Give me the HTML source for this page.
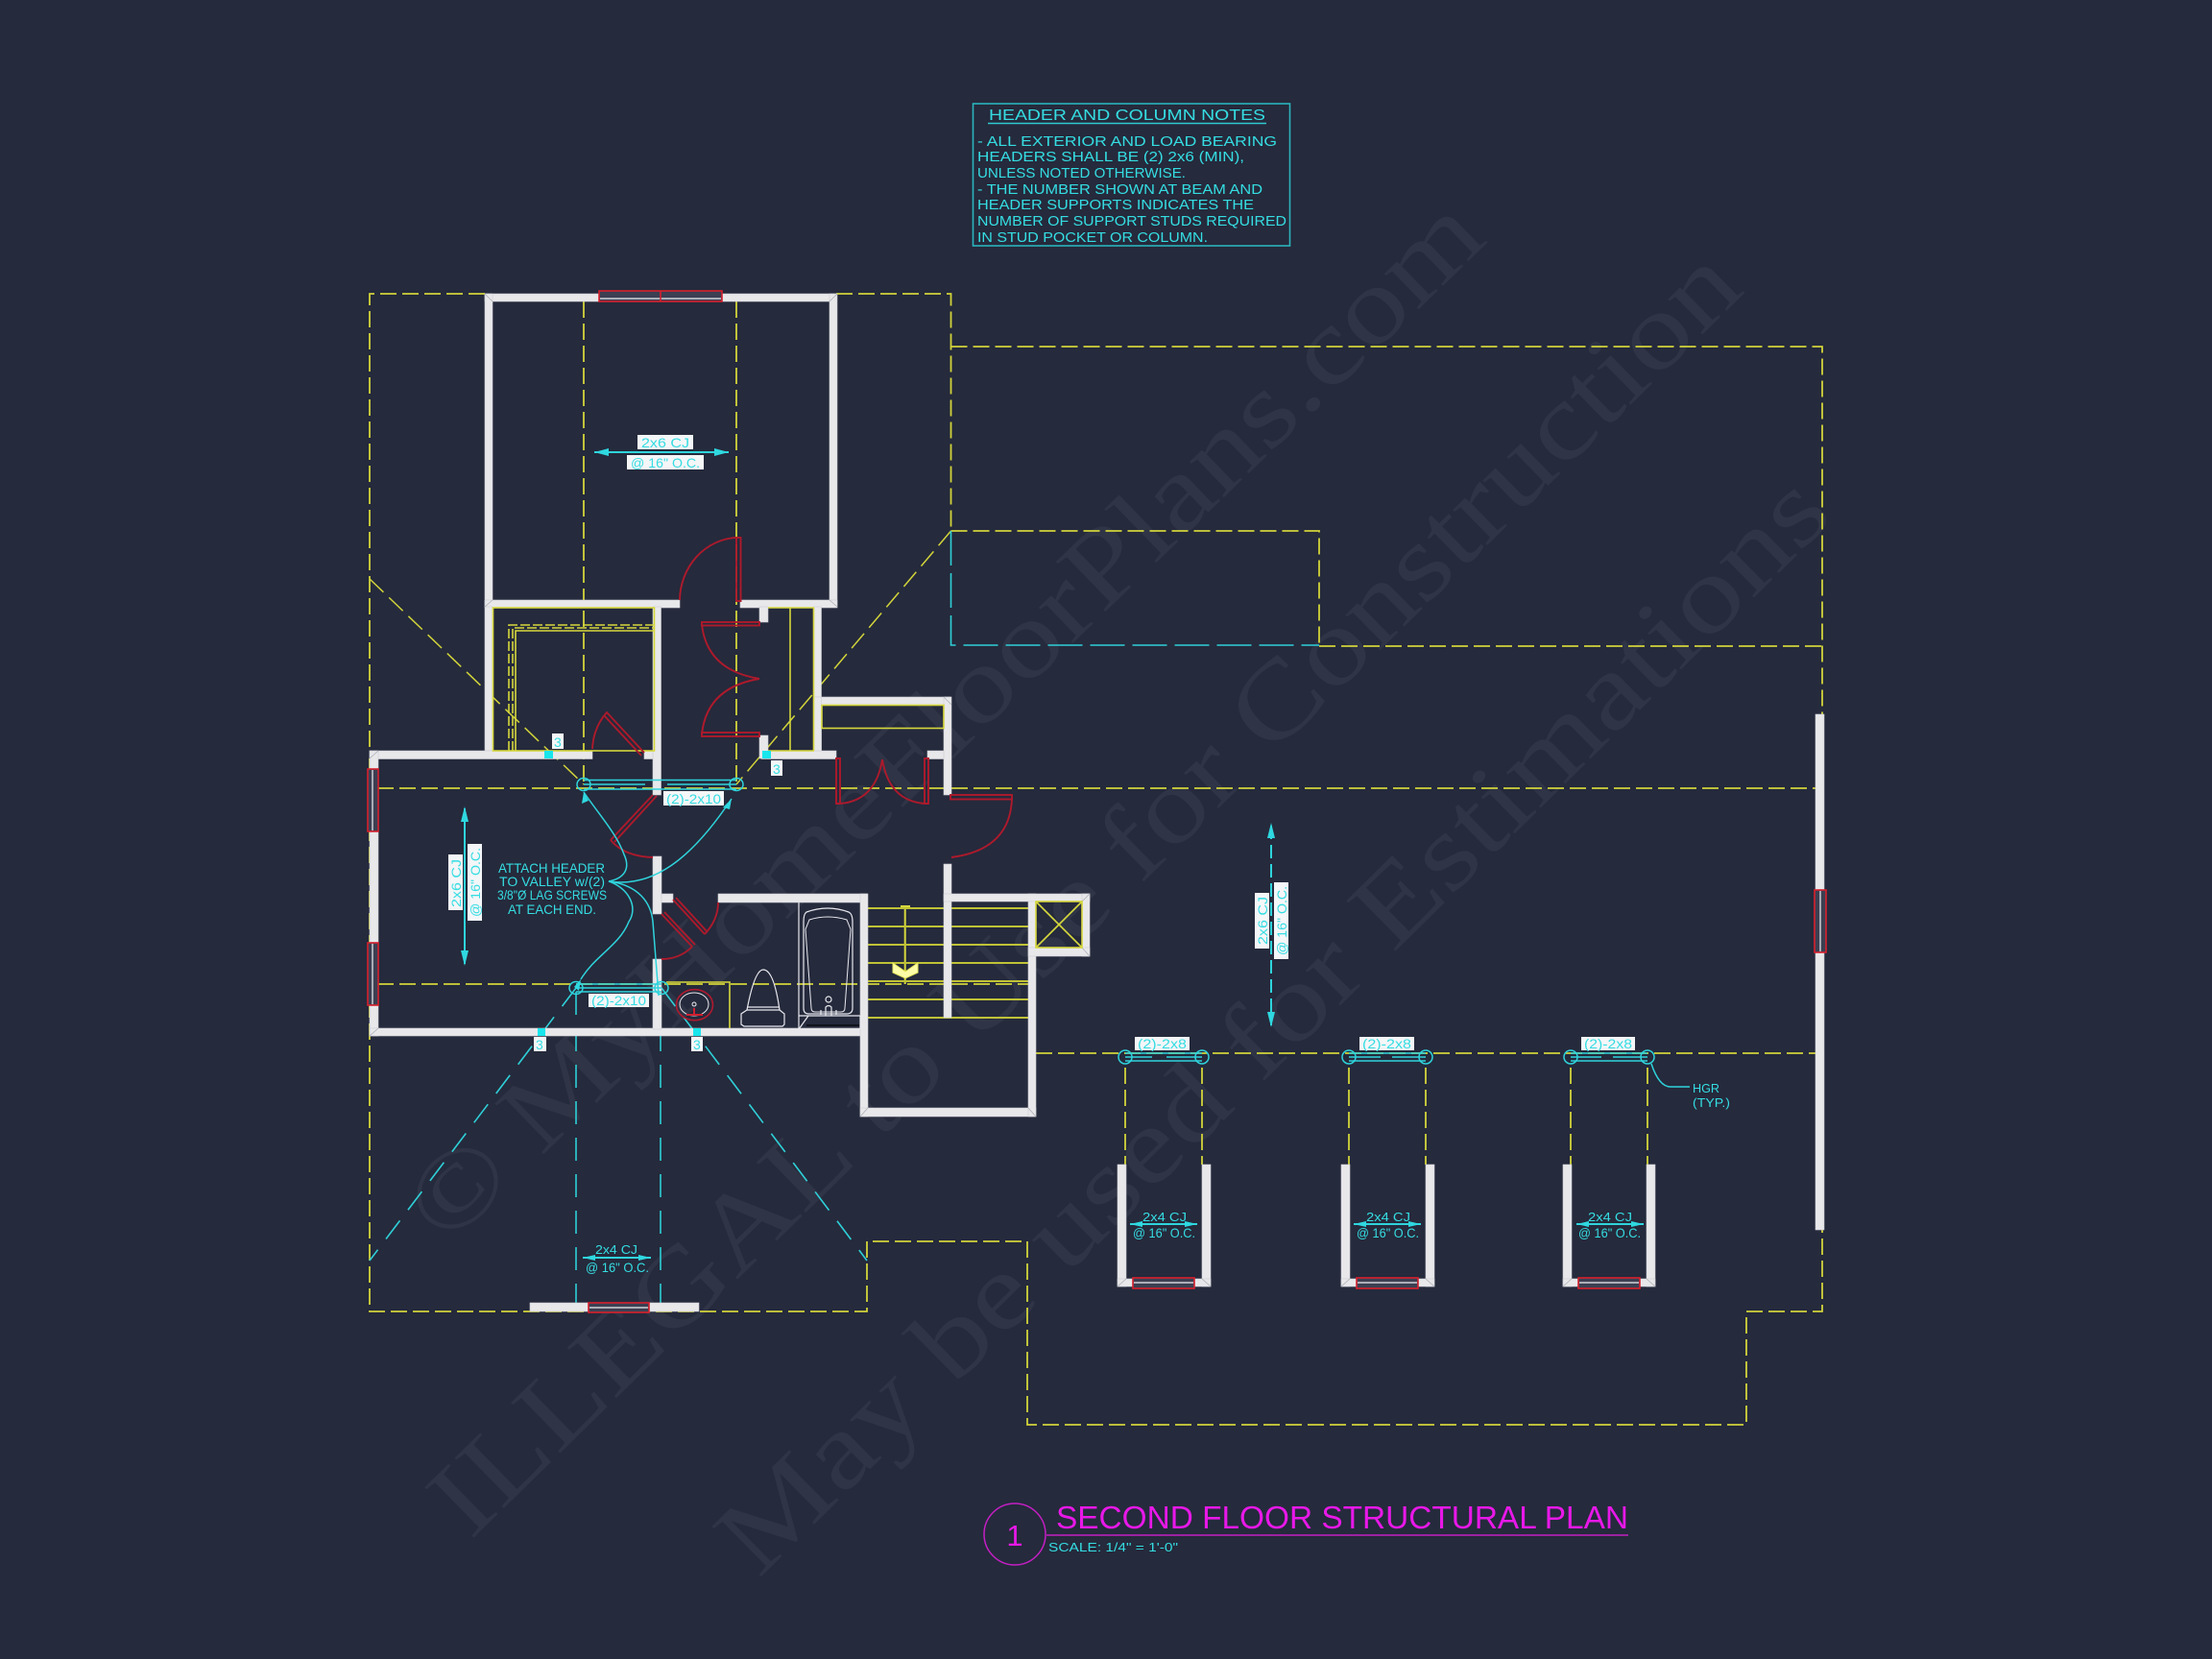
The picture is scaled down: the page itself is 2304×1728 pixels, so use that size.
<!DOCTYPE html>
<html><head><meta charset="utf-8"><style>
html,body{margin:0;padding:0;background:#252a3c}
svg{display:block}
.w{fill:#e8e8ea;stroke:#cfcfd4;stroke-width:.6}
.y,.yd,.c,.cd,.r,.t{fill:none}
.y{stroke:#d6d83c;stroke-width:1.6}
.yd{stroke:#d2d43a;stroke-width:1.8;stroke-dasharray:17 6}
.st{stroke:#bfc236;stroke-width:2;fill:none}
.c{stroke:#2fd4dc;stroke-width:1.5}
.cd{stroke:#2fd0d8;stroke-width:1.6;stroke-dasharray:24 14}
.r{stroke:#ad1a2c;stroke-width:1.9}
.t{stroke:#e8e8ee;stroke-width:1.2}
.win{fill:#3c3f52;stroke:#d8202e;stroke-width:1.6}
.lb{fill:#f4f6f8}
.q{fill:#19e6ec}
text{font-family:"Liberation Sans",sans-serif}
.tx{fill:#35dde2}
.wm{font-family:"Liberation Serif",serif;fill:#2f3446;font-size:112px}
</style></head><body>
<svg xmlns="http://www.w3.org/2000/svg" width="2304" height="1728" viewBox="0 0 2304 1728">
<rect width="2304" height="1728" fill="#252a3c"/>
<!-- watermark -->
<text class="wm" transform="translate(465 1300) rotate(-44)" textLength="1510" lengthAdjust="spacingAndGlyphs">© MyHomeFloorPlans.com</text>
<text class="wm" transform="translate(490 1605) rotate(-44.4)" textLength="1860" lengthAdjust="spacingAndGlyphs">ILLEGAL to Use for Construction</text>
<text class="wm" transform="translate(790 1645) rotate(-44.6)" textLength="1575" lengthAdjust="spacingAndGlyphs">May be used for Estimations</text>

<!-- notes -->
<rect x="1013.5" y="108" width="330" height="148" fill="none" stroke="#2bb4bc" stroke-width="1.6"/>
<g class="tx">
<text x="1030" y="125" font-size="16" textLength="288" lengthAdjust="spacingAndGlyphs">HEADER AND COLUMN NOTES</text>
<text x="1018" y="152" font-size="14.5" textLength="312" lengthAdjust="spacingAndGlyphs">- ALL EXTERIOR AND LOAD BEARING</text>
<text x="1018" y="168" font-size="14.5" textLength="278" lengthAdjust="spacingAndGlyphs">HEADERS SHALL BE (2) 2x6 (MIN),</text>
<text x="1018" y="185" font-size="14.5" textLength="217" lengthAdjust="spacingAndGlyphs">UNLESS NOTED OTHERWISE.</text>
<text x="1018" y="202" font-size="14.5" textLength="297" lengthAdjust="spacingAndGlyphs">- THE NUMBER SHOWN AT BEAM AND</text>
<text x="1018" y="218" font-size="14.5" textLength="288" lengthAdjust="spacingAndGlyphs">HEADER SUPPORTS INDICATES THE</text>
<text x="1018" y="235" font-size="14.5" textLength="322" lengthAdjust="spacingAndGlyphs">NUMBER OF SUPPORT STUDS REQUIRED</text>
<text x="1018" y="252" font-size="14.5" textLength="240" lengthAdjust="spacingAndGlyphs">IN STUD POCKET OR COLUMN.</text>
</g>
<line x1="1029" y1="128.5" x2="1319" y2="128.5" stroke="#2fc8d0" stroke-width="1.6"/>

<!-- roof dashes -->
<g class="yd">
<path d="M505 306H385V782"/>
<path d="M871 306H990.500V553"/>
<path d="M990.500 361H1898V744"/>
<path d="M990.500 553H1374V673"/>
<path d="M1374 673H1898"/>
<path d="M385 790V1366H903V1293H1070V1484H1819V1366H1898V1281"/>
<path d="M385 603L608 817" stroke-width="1.5" stroke-dasharray="20 8"/>
<path d="M990.500 553L767 817" stroke-width="1.5" stroke-dasharray="20 8"/>
<path d="M608 314V817"/>
<path d="M767 314V817"/>
<path d="M393 821H1892"/>
<path d="M393 1025H1072"/>
<path d="M1079 1097H1892"/>
<path d="M1172 1112V1213M1252 1112V1213M1405 1112V1213M1485 1112V1213M1636 1112V1213M1716 1112V1213"/>
</g>
<g class="cd">
<path d="M990.500 553V672H1374" stroke-dasharray="36 8"/>
<path d="M600 1033V1357M688 1033V1357"/>
<path d="M600 1029L385 1313"/>
<path d="M689 1029L903 1313"/>
</g>

<!-- stair yellow -->
<g class="y">
<path d="M942.700 943V1025" stroke-width="2"/>
<path d="M938 944H948" stroke-width="2"/>
</g>
<g class="st">
<path d="M904 946H1071M904 965H1071M904 984H1071M904 1003H1071M904 1022H1071M904 1041H1071M904 1060H1071"/>
</g>
<polygon points="930,1003 943,1012 956,1003 956,1013 943,1019 930,1013" fill="#fdfda8" stroke="#e8e860" stroke-width="1"/>

<!-- walls -->
<g class="w">
<rect x="505" y="306" width="119" height="8"/>
<rect x="752" y="306" width="119" height="8"/>
<rect x="505" y="306" width="8" height="326"/>
<rect x="864" y="306" width="8" height="326"/>
<rect x="505" y="625" width="203" height="8"/>
<rect x="771" y="625" width="101" height="8"/>
<rect x="505" y="632" width="8" height="150"/>
<rect x="385" y="782" width="232" height="8.500"/>
<rect x="385" y="782" width="9" height="19"/>
<rect x="680" y="632" width="8.500" height="196"/>
<rect x="671" y="782" width="9" height="8.500"/>
<rect x="848" y="632" width="7.500" height="150"/>
<rect x="793" y="782" width="78" height="8.500"/>
<rect x="791" y="632" width="9" height="16"/>
<rect x="791" y="766" width="9" height="24"/>
<rect x="848" y="726" width="142" height="8"/>
<rect x="848" y="726" width="7.500" height="56"/>
<rect x="983" y="726" width="8" height="102"/>
<rect x="966" y="782" width="17" height="8.500"/>
<rect x="385" y="866" width="9" height="116"/>
<rect x="385" y="1047" width="9" height="32"/>
<rect x="385" y="1071" width="518" height="8"/>
<rect x="680" y="892" width="9" height="60"/>
<rect x="680" y="999" width="9" height="73"/>
<rect x="689" y="931" width="12" height="9"/>
<rect x="748" y="931" width="155" height="9"/>
<rect x="896" y="931" width="8" height="232"/>
<rect x="896" y="1154" width="183" height="9"/>
<rect x="1071" y="931" width="8" height="232"/>
<rect x="983" y="900" width="8" height="160"/>
<rect x="983" y="931" width="152" height="8"/>
<rect x="1127" y="931" width="8" height="65"/>
<rect x="1071" y="987" width="64" height="9"/>
<rect x="552" y="1357" width="176" height="9"/>
<rect x="1164" y="1213" width="9" height="127"/>
<rect x="1252" y="1213" width="9" height="127"/>
<rect x="1164" y="1332" width="97" height="8"/>
<rect x="1397" y="1213" width="9" height="127"/>
<rect x="1485" y="1213" width="9" height="127"/>
<rect x="1397" y="1332" width="97" height="8"/>
<rect x="1628" y="1213" width="9" height="127"/>
<rect x="1715" y="1213" width="9" height="127"/>
<rect x="1628" y="1332" width="96" height="8"/>
<rect x="1891" y="744" width="9" height="537"/>
</g>
<!-- tiny miters -->
<g stroke="#a9abb4" stroke-width=".7" fill="none">
<path d="M505 306L513 314M872 306L864 314M385 790L394 782M385 1079L394 1071M896 1163L904 1154M1079 1163L1071 1154M1135 931L1127 939M1135 996L1127 987M505 632L513 625M872 632L864 625M983 726L991 734"/>
<path d="M1164 1340L1173 1332M1261 1340L1252 1332M1397 1340L1406 1332M1494 1340L1485 1332M1628 1340L1637 1332M1724 1340L1715 1332"/>
</g>

<!-- closet yellow over walls -->
<g class="y">
<rect x="513.500" y="633" width="168" height="149"/>
<path d="M537 782V657H681"/>
<path d="M530 782V651H681" stroke-dasharray="10 3"/>
<path d="M534 782V654H681" stroke-dasharray="10 3"/>
<path d="M823 633V782M847.500 633V782M800 633H848M800 782H848"/>
<rect x="856" y="734.500" width="127" height="24"/>
<rect x="1079" y="939" width="48" height="48"/>
<path d="M1079 939L1127 987M1127 939L1079 987"/>
<path d="M694 1023H760V1071"/>
</g>

<!-- windows -->
<g class="win">
<rect x="624" y="303" width="128" height="11"/>
<rect x="383" y="801" width="11" height="65"/>
<rect x="383" y="982" width="11" height="65"/>
<rect x="613" y="1357" width="63" height="10"/>
<rect x="1180" y="1331" width="64" height="11"/>
<rect x="1413" y="1331" width="64" height="11"/>
<rect x="1644" y="1331" width="64" height="11"/>
<rect x="1890" y="927" width="12" height="65"/>
</g>
<g stroke="#f0f0f4" stroke-width="1.2" fill="none">
<path d="M625 311H751M388 802V865M388 983V1046M614 1362H675M1181 1336H1243M1414 1336H1476M1645 1336H1707M1896 928V991"/>
</g>
<path d="M688 303V314" stroke="#d8202e" stroke-width="1.6"/>

<!-- doors -->
<g class="r">
<rect x="767" y="560" width="4.500" height="66"/>
<path d="M767 560A62 66 0 0 0 708 625"/>
<rect x="731" y="648" width="60" height="3.500"/>
<path d="M731 650Q736 698 791 707"/>
<path d="M791 707Q736 716 731 765"/>
<rect x="731" y="763" width="60" height="4"/>
<path d="M617 780Q618 758 632 742L671 784M629 745L668 787"/>
<path d="M871 790V837L875 837V790Z"/>
<path d="M875 837Q912 834 919 791"/>
<path d="M919 791Q926 834 963 837"/>
<path d="M963 790V837H967V790Z"/>
<path d="M680 828L636 875M684 829L640 877"/>
<path d="M636 875Q650 892 680 893"/>
<path d="M701 937L734 973M704 935L737 971"/>
<path d="M734 973Q748 958 748 940"/>
<path d="M689 952L721 986M692 950L724 984"/>
<path d="M721 986Q708 999 689 999"/>
<rect x="990" y="828" width="64" height="4.500"/>
<path d="M1054 832Q1052 885 991 893"/>
</g>

<!-- bath fixtures -->
<g class="t">
<path d="M832 940V1071"/>
<path d="M840 950Q862 942 884 950Q888 952 888 960V1050Q888 1056 882 1056H842Q837 1056 837 1050V960Q837 952 840 950Z"/>
<path d="M843 958Q862 952 882 958L886 968L880 1050Q880 1054 876 1054H849Q845 1054 845 1050L839 968Z" stroke-width="1"/>
<circle cx="863" cy="1041" r="3"/>
<path d="M860 1058V1049Q863 1046 866 1049V1058M855 1057V1052M871 1057V1052"/>
<path d="M832 1058H896M832 1072L842 1058M896 1058V1072"/>
<path d="M840 1068H895" stroke="#10121a" stroke-width="2"/>
<path d="M778 1052Q786 1010 795 1010Q806 1010 812 1052"/>
<path d="M778 1049H812"/>
<path d="M778 1052L772 1056V1067L775 1069H815L817 1067V1056L812 1052Z"/>
<ellipse cx="723" cy="1046" rx="15" ry="12" stroke-width="1"/>
</g>
<ellipse cx="723.500" cy="1046.700" rx="19" ry="16" fill="none" stroke="#b01a2e" stroke-width="1.6"/>
<circle cx="723" cy="1046" r="2" fill="none" stroke="#eee"/>
<path d="M723 1050V1056M715 1057H732" stroke="#d02030" stroke-width="2"/>

<!-- headers -->
<g class="c">
<path d="M608 812.500H767M608 817H672M695 817H767M608 822H767"/>
<ellipse cx="608" cy="817" rx="7" ry="6.500"/><ellipse cx="767" cy="817" rx="7" ry="6.500"/>
<path d="M600 1025H689M600 1029H689M600 1033H689"/>
<ellipse cx="600" cy="1029" rx="7" ry="6.500"/><ellipse cx="689" cy="1029" rx="7" ry="6.500"/>
<path d="M1172 1097H1252M1172 1101H1200M1215 1101H1252M1172 1105H1252"/>
<ellipse cx="1172" cy="1101" rx="7" ry="7"/><ellipse cx="1252" cy="1101" rx="7" ry="7"/>
<path d="M1405 1097H1485M1405 1101H1438M1450 1101H1485M1405 1105H1485"/>
<ellipse cx="1405" cy="1101" rx="7" ry="7"/><ellipse cx="1485" cy="1101" rx="7" ry="7"/>
<path d="M1636 1097H1716M1636 1101H1668M1680 1101H1716M1636 1105H1716"/>
<ellipse cx="1636" cy="1101" rx="7" ry="7"/><ellipse cx="1716" cy="1101" rx="7" ry="7"/>
<!-- leader curves -->
<path d="M634 918C650 915 657 905 650 890C642 868 625 850 608 825"/>
<path d="M634 918C680 925 720 895 762 832"/>
<path d="M634 918C655 925 665 945 655 960C645 985 620 995 605 1020"/>
<path d="M634 918C665 922 678 940 680 960L686 1037"/>
<path d="M1720 1108Q1728 1132 1740 1132H1760"/>
<path d="M619 471H759M1177 1275H1247M1410 1275H1480M1642 1275H1712M607 1310H678" stroke-width="2"/>
<path d="M484 842V1004" stroke-width="2"/>
<path d="M1324 860V1068" stroke-width="2" stroke-dasharray="14 6"/>
</g>
<g fill="#2fd8e0">
<path d="M619 471L634 467V475ZM759 471L744 467V475Z"/>
<path d="M484 840L480 856H488ZM484 1006L480 990H488Z"/>
<path d="M1324 857L1320 873H1328ZM1324 1070L1320 1054H1328Z"/>
<path d="M1177 1275L1190 1272V1278ZM1247 1275L1234 1272V1278ZM1410 1275L1423 1272V1278ZM1480 1275L1467 1272V1278ZM1642 1275L1655 1272V1278ZM1712 1275L1699 1272V1278Z"/>
<path d="M607 1310L620 1307V1313ZM678 1310L665 1307V1313Z"/>
<path d="M608 825L606 837L613 834ZM762 832L753 841L760 843ZM605 1020L603 1032L598 1028Z"/>
</g>
<!-- studs -->
<g class="q">
<rect x="567" y="782" width="9" height="8"/><rect x="794" y="782" width="9" height="8"/>
<rect x="560" y="1071" width="8" height="8"/><rect x="722" y="1071" width="8" height="8"/>
</g>

<!-- white labels -->
<g class="lb">
<rect x="664" y="453" width="58" height="15"/><rect x="653" y="474" width="80" height="15"/>
<rect x="575" y="764" width="12" height="16"/><rect x="803" y="792" width="12" height="16"/>
<rect x="691" y="824" width="63" height="15"/><rect x="613" y="1035" width="63" height="14"/>
<rect x="556" y="1080" width="13" height="15"/><rect x="720" y="1080" width="12" height="15"/>
<rect x="467" y="890" width="15" height="58"/><rect x="487" y="879" width="15" height="80"/>
<rect x="1307" y="930" width="15" height="58"/><rect x="1327" y="919" width="15" height="80"/>
<rect x="1182" y="1080" width="57" height="14"/><rect x="1416" y="1080" width="57" height="14"/><rect x="1647" y="1080" width="56" height="14"/>
</g>
<g class="tx" font-size="14">
<text x="668" y="466" textLength="50" lengthAdjust="spacingAndGlyphs">2x6 CJ</text>
<text x="657" y="487" textLength="72" lengthAdjust="spacingAndGlyphs">@ 16" O.C.</text>
<text x="577" y="778">3</text><text x="805" y="806">3</text>
<text x="694" y="837" textLength="57" lengthAdjust="spacingAndGlyphs">(2)-2x10</text>
<text x="616" y="1047" textLength="57" lengthAdjust="spacingAndGlyphs">(2)-2x10</text>
<text x="558" y="1093">3</text><text x="722" y="1093">3</text>
<text transform="translate(480 945) rotate(-90)" textLength="50" lengthAdjust="spacingAndGlyphs">2x6 CJ</text>
<text transform="translate(500 955) rotate(-90)" textLength="72" lengthAdjust="spacingAndGlyphs">@ 16" O.C.</text>
<text transform="translate(1320 984) rotate(-90)" textLength="50" lengthAdjust="spacingAndGlyphs">2x6 CJ</text>
<text transform="translate(1340 995) rotate(-90)" textLength="72" lengthAdjust="spacingAndGlyphs">@ 16" O.C.</text>
<text x="1185" y="1092" textLength="51" lengthAdjust="spacingAndGlyphs">(2)-2x8</text>
<text x="1419" y="1092" textLength="51" lengthAdjust="spacingAndGlyphs">(2)-2x8</text>
<text x="1650" y="1092" textLength="50" lengthAdjust="spacingAndGlyphs">(2)-2x8</text>
</g>
<g class="tx" font-size="14">
<text x="519" y="909" textLength="111" lengthAdjust="spacingAndGlyphs">ATTACH HEADER</text>
<text x="520" y="923" textLength="110" lengthAdjust="spacingAndGlyphs">TO VALLEY w/(2)</text>
<text x="518" y="937" textLength="114" lengthAdjust="spacingAndGlyphs">3/8"Ø LAG SCREWS</text>
<text x="529" y="952" textLength="92" lengthAdjust="spacingAndGlyphs">AT EACH END.</text>
<text x="620" y="1306" font-size="13" textLength="44" lengthAdjust="spacingAndGlyphs">2x4 CJ</text>
<text x="610" y="1325" font-size="14" textLength="66" lengthAdjust="spacingAndGlyphs">@ 16" O.C.</text>
<text x="1190" y="1272" font-size="13" textLength="46" lengthAdjust="spacingAndGlyphs">2x4 CJ</text>
<text x="1180" y="1289" font-size="14" textLength="65" lengthAdjust="spacingAndGlyphs">@ 16" O.C.</text>
<text x="1423" y="1272" font-size="13" textLength="46" lengthAdjust="spacingAndGlyphs">2x4 CJ</text>
<text x="1413" y="1289" font-size="14" textLength="65" lengthAdjust="spacingAndGlyphs">@ 16" O.C.</text>
<text x="1654" y="1272" font-size="13" textLength="46" lengthAdjust="spacingAndGlyphs">2x4 CJ</text>
<text x="1644" y="1289" font-size="14" textLength="65" lengthAdjust="spacingAndGlyphs">@ 16" O.C.</text>
<text x="1763" y="1138" font-size="13" textLength="28" lengthAdjust="spacingAndGlyphs">HGR</text>
<text x="1763" y="1153" font-size="13" textLength="39" lengthAdjust="spacingAndGlyphs">(TYP.)</text>
<text x="1092" y="1616" font-size="13" textLength="135" lengthAdjust="spacingAndGlyphs">SCALE: 1/4" = 1'-0"</text>
</g>

<!-- title -->
<circle cx="1057" cy="1598" r="32" fill="none" stroke="#c41fc4" stroke-width="1.500"/>
<text x="1057" y="1610" font-size="31" fill="#e818e8" text-anchor="middle">1</text>
<text x="1100" y="1592" font-size="33" fill="#e818e8" textLength="596" lengthAdjust="spacingAndGlyphs">SECOND FLOOR STRUCTURAL PLAN</text>
<line x1="1090" y1="1599" x2="1696" y2="1599" stroke="#c41fc4" stroke-width="1.500"/>
</svg>
</body></html>
